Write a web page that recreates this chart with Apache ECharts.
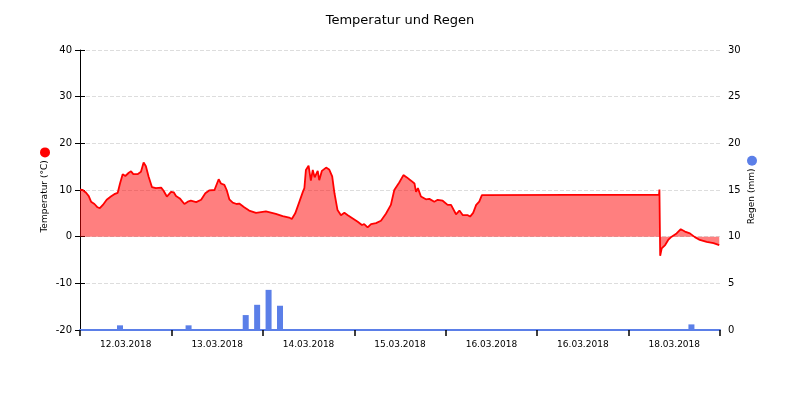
<!DOCTYPE html>
<html>
<head>
<meta charset="utf-8">
<title>Temperatur und Regen</title>
<script src="https://cdn.jsdelivr.net/npm/echarts@6/dist/echarts.min.js"></script>
<style>
    html, body { margin: 0; padding: 0; background: #fff; }
    #chart { width: 800px; height: 400px; }
</style>
</head>
<body>
<div id="chart"></div>
<script>
/* ------------------------------------ 数据 ------------------------------------ */
// x 轴标签（每天一个）
let dayLabels = ['12.03.2018', '13.03.2018', '14.03.2018', '15.03.2018', '16.03.2018', '16.03.2018', '18.03.2018'];

// 温度：时间（小时，从开始算）和数值（°C）
let tempHours = [
    0, 0.7, 1.6, 2.3, 2.9, 3.8, 4.6, 5.2, 6.0, 7.0, 8.1, 9.0, 9.9, 10.5, 11.2, 11.9, 12.8, 13.4, 14.0, 15.1,
    16.0, 16.7, 17.3, 18.0, 18.9, 19.9, 21.3, 21.9, 22.8, 23.9, 24.6, 25.2, 26.2, 27.4, 28.3, 29.1, 30.5, 31.8,
    32.9, 33.9, 35.3, 36.4, 37.0, 37.9, 38.5, 39.2, 40.1, 41.1, 41.8, 43.1, 44.4, 46.2, 48.8, 51.4, 53.2, 54.9,
    55.6, 56.5, 57.6, 58.5, 58.9, 59.3, 60.0, 60.6, 61.1, 61.6, 62.4, 62.8, 63.5, 64.6, 65.4, 66.2, 66.8, 67.6,
    68.5, 69.4, 70.3, 71.6, 72.9, 74.0, 74.6, 75.5, 76.4, 77.7, 79.0, 80.3, 81.6, 82.5, 83.0, 83.8, 84.9, 85.8,
    86.9, 87.8, 88.2, 88.7, 89.5, 90.8, 91.7, 93.0, 93.9, 95.2, 96.5, 97.4, 98.7, 99.6, 100.5, 101.8, 102.4,
    103.2, 104.0, 104.8, 105.5, 105.9, 152.0, 152.1, 152.3, 152.7, 153.6, 154.4, 155.3, 156.6, 157.7, 158.8,
    160.1, 161.4, 162.7, 164.5, 166.3, 167.8
];
let tempValues = [
    10.1, 10.0, 9.4, 8.7, 7.5, 7.0, 6.3, 6.1, 6.8, 7.9, 8.6, 9.1, 9.4, 11.4, 13.4, 13.0, 13.7, 14.0, 13.4, 13.4,
    13.9, 15.9, 15.1, 12.9, 10.6, 10.4, 10.5, 9.9, 8.6, 9.6, 9.5, 8.7, 8.2, 7.0, 7.5, 7.7, 7.4, 7.9,
    9.3, 9.9, 10.0, 12.3, 11.4, 11.1, 10.0, 8.0, 7.3, 7.0, 7.1, 6.3, 5.6, 5.1, 5.4, 4.9, 4.4, 4.1,
    3.8, 5.0, 7.5, 9.6, 10.4, 14.3, 15.2, 12.0, 14.3, 12.7, 14.1, 12.1, 14.1, 14.8, 14.4, 12.9, 9.3, 5.7,
    4.6, 5.1, 4.6, 3.9, 3.2, 2.5, 2.7, 2.0, 2.7, 2.9, 3.4, 4.9, 6.8, 10.0, 10.1, 11.6, 13.2, 12.7,
    12.0, 11.4, 9.6, 10.4, 8.6, 8.0, 8.1, 7.5, 7.9, 7.7, 6.8, 6.8, 4.8, 5.6, 4.6, 4.6, 4.3,
    5.1, 6.8, 7.5, 8.9, 9.0, 9.0, 10.1, -4.1, -2.5, -1.8, -0.7, 0, 0.7, 1.6, 1.1,
    0.7, -0.1, -0.7, -1.1, -1.4, -1.8
];

// 降雨：3 小时一个区间，取区间中点（小时）和数值（mm）
let rainHours = [10.5, 13.5, 28.5, 43.5, 46.5, 49.5, 52.5, 160.5];
let rainValues = [0.5, 0.1, 0.5, 1.6, 2.7, 4.3, 2.6, 0.6];

/* ------------------------------------ 配置 ------------------------------------ */
let FONT = 'DejaVu Sans';
let RED = '#ff0000';
let BLUE = '#5b7fe8';

let zip = function (xs, ys) {
    return xs.map(function (x, i) { return [x, ys[i]]; });
};

// 轴名称后面的小圆点
let dot = function (color) {
    return { width: 10, height: 10, borderRadius: 5, backgroundColor: color };
};

let option = {
    animation: false,
    textStyle: { fontFamily: FONT },
    title: {
        text: 'Temperatur und Regen',
        left: 'center',
        top: 9,
        textStyle: { fontFamily: FONT, fontSize: 13, fontWeight: 'normal', color: '#000' }
    },
    grid: { left: 80, right: 80, top: 50, bottom: 70 },
    xAxis: [
        {
            // 只用来显示日期标签
            type: 'category',
            data: dayLabels,
            boundaryGap: true,
            axisLine: { onZero: false, lineStyle: { color: BLUE, width: 2 } },
            axisTick: { show: true, interval: 0, length: 6, lineStyle: { color: '#000', width: 1.5 } },
            axisLabel: { color: '#000', fontSize: 9, margin: 10 },
            splitLine: { show: false },
            z: 5
        },
        {
            // 真实的时间刻度（小时），不显示
            type: 'value',
            min: 0,
            max: 168,
            show: false
        }
    ],
    yAxis: [
        {
            type: 'value',
            min: -20,
            max: 40,
            interval: 10,
            name: 'Temperatur (°C) {d|}',
            nameLocation: 'middle',
            nameGap: 30,
            nameMoveOverlap: false,
            nameRotate: 90,
            nameTextStyle: {
                color: '#000', fontSize: 9,
                rich: { d: dot(RED) }
            },
            axisLine: { show: true, onZero: false, lineStyle: { color: '#000' } },
            axisTick: { show: true, length: 5, lineStyle: { color: '#000' } },
            axisLabel: { color: '#000', fontSize: 10 },
            splitLine: { lineStyle: { color: '#ddd', type: 'dashed' } }
        },
        {
            type: 'value',
            min: 0,
            max: 30,
            interval: 5,
            name: 'Regen (mm) {d|}',
            nameLocation: 'middle',
            nameGap: 27,
            nameMoveOverlap: false,
            nameRotate: 90,
            nameTextStyle: {
                color: '#000', fontSize: 9,
                rich: { d: dot(BLUE) }
            },
            axisLine: { show: false },
            axisTick: { show: true, length: 5, lineStyle: { color: '#000' } },
            axisLabel: { color: '#000', fontSize: 10 },
            splitLine: { show: false }
        }
    ],
    series: [
        {
            name: 'Temperatur',
            type: 'line',
            xAxisIndex: 1,
            yAxisIndex: 0,
            data: zip(tempHours, tempValues),
            showSymbol: false,
            lineStyle: { color: RED, width: 1.8 },
            itemStyle: { color: RED },
            areaStyle: { color: RED, opacity: 0.5 }
        },
        {
            name: 'Regen',
            type: 'bar',
            xAxisIndex: 1,
            yAxisIndex: 1,
            data: zip(rainHours, rainValues),
            barWidth: 6,
            itemStyle: { color: BLUE }
        }
    ]
};

let myChart = echarts.init(document.querySelector('#chart'));
myChart.setOption(option);
</script>
</body>
</html>
